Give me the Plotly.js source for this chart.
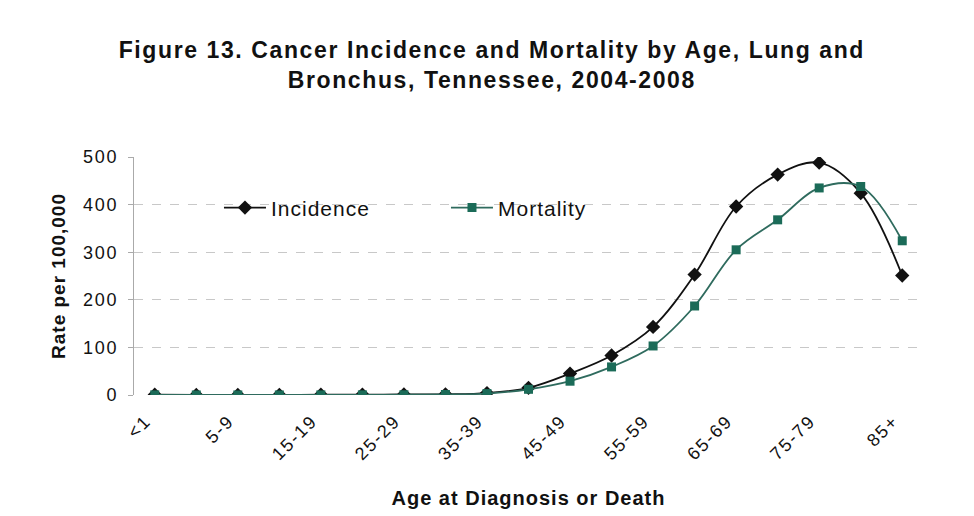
<!DOCTYPE html>
<html>
<head>
<meta charset="utf-8">
<script src="https://cdn.plot.ly/plotly-3.0.1.min.js"></script>
<style>
html,body{margin:0;padding:0;background:#fff;}
#chart{width:974px;height:516px;}
.gtitle{letter-spacing:1.6px;}
.g-xtitle text,.g-ytitle text{letter-spacing:1px;}
.xtick text,.ytick text{letter-spacing:1.8px;}
.legendtext{letter-spacing:1px;}
</style>
</head>
<body>
<div id="chart"></div>
<script>
const categories = ['<1','1-4','5-9','10-14','15-19','20-24','25-29','30-34','35-39','40-44','45-49','50-54','55-59','60-64','65-69','70-74','75-79','80-84','85+'];
const tickLabels = ['<1','5-9','15-19','25-29','35-39','45-49','55-59','65-69','75-79','85+'];
const incidence = [0.5,0.2,0.2,0.3,0.5,0.8,1,1.5,4,15,45,83,143,253,396,463,488,424,251];
const mortality = [0.3,0.1,0.1,0.1,0.2,0.3,0.5,1,3,12,29,59,103,187,305,368,435,438,324];

const font = 'Liberation Sans, Arial, sans-serif';

const traces = [
  {
    x: categories, y: incidence, name: 'Incidence', type: 'scatter', mode: 'lines+markers',
    line: {color: '#111111', width: 1.8, shape: 'spline', smoothing: 1},
    marker: {symbol: 'diamond', size: 11, color: '#111111'}
  },
  {
    x: categories, y: mortality, name: 'Mortality', type: 'scatter', mode: 'lines+markers',
    line: {color: '#2f6b5e', width: 1.8, shape: 'spline', smoothing: 1},
    marker: {symbol: 'square', size: 9, color: '#1b6b58'}
  }
];

const layout = {
  width: 974, height: 516,
  paper_bgcolor: '#ffffff', plot_bgcolor: '#ffffff',
  margin: {l: 134, r: 51, t: 157, b: 121},
  font: {family: font, color: '#111111'},
  title: {
    text: 'Figure 13. Cancer Incidence and Mortality by Age, Lung and<br>Bronchus, Tennessee, 2004-2008',
    font: {family: font, size: 23, weight: 'bold', color: '#111111'},
    x: 0.505, xanchor: 'center', y: 0.887, yanchor: 'top'
  },
  xaxis: {
    type: 'category',
    range: [-0.5, 18.5],
    tickmode: 'array', tickvals: tickLabels, ticktext: tickLabels,
    tickangle: -45, tickfont: {size: 18, family: font, color: '#111'},
    ticklabelstandoff: 11, ticklabelshift: -9,
    showgrid: false, showline: false, zeroline: false, ticks: '',
    title: {text: 'Age at Diagnosis or Death', font: {size: 20, weight: 'bold', family: font, color: '#111'}, standoff: 27}
  },
  yaxis: {
    range: [0, 500], dtick: 100, tick0: 0,
    tickfont: {size: 18, family: font, color: '#111'},
    showgrid: true, gridcolor: '#c8c8c8', griddash: 'dash', gridwidth: 1,
    showline: true, linecolor: '#aaaaaa', linewidth: 1,
    ticks: 'outside', ticklen: 5, tickcolor: '#aaaaaa',
    ticklabelstandoff: 6,
    zeroline: false,
    title: {text: 'Rate per 100,000', font: {size: 19, weight: 'bold', family: font, color: '#111'}, standoff: 12}
  },
  showlegend: true,
  legend: {
    orientation: 'h', x: 0.1077, xanchor: 'left', y: 0.786, yanchor: 'middle',
    font: {size: 21, family: font, color: '#111'},
    bgcolor: 'rgba(0,0,0,0)', entrywidth: 170, entrywidthmode: 'pixels',
    itemwidth: 42
  }
};

Plotly.newPlot('chart', traces, layout, {displayModeBar: false, staticPlot: true});
</script>
</body>
</html>
